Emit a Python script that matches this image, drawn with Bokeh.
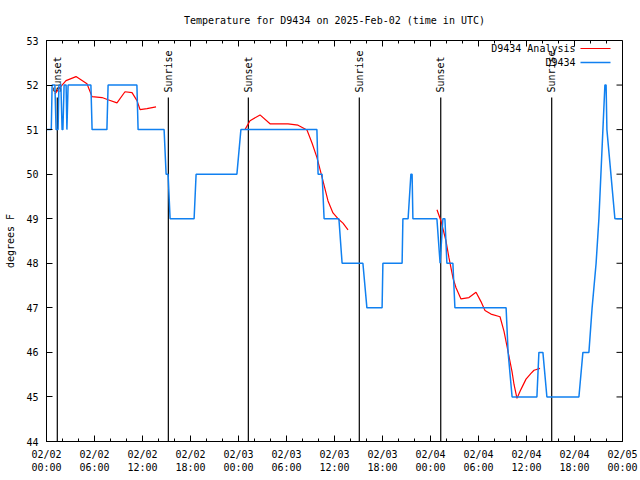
import math
from bokeh.plotting import figure
from bokeh.models import FixedTicker, LinearAxis, Range1d, ColumnDataSource
from bokeh.embed import file_html
from bokeh.resources import INLINE
from bokeh.core.properties import value

# ---- data (hours since 02/02 00:00 UTC) ----
obs_hours = [0, 0.6, 0.7, 1.05, 1.2, 1.45, 1.55, 1.8, 1.95, 2.05, 2.2, 2.45, 2.55, 2.7,
             5.55, 5.7, 7.55, 7.7, 11.3, 11.45, 14.7, 14.95, 15.2, 15.45, 18.45, 18.7,
             23.8, 24.3, 33.8, 33.95, 34.45, 34.7, 36.55, 36.95, 39.55, 40.05, 41.95, 42.05,
             44.45, 44.55, 45.2, 45.55, 45.7, 45.8, 48.8, 49.2, 49.55, 49.8, 50.05, 50.8,
             51.05, 57.45, 57.7, 58.2, 61.3, 61.55, 62.05, 62.55, 66.55, 67.05, 67.8, 68.2,
             68.7, 69.05, 69.3, 69.55, 69.8, 69.95, 70.05, 70.55, 71.05, 72]
obs_temp = [51, 51, 52, 52, 51, 51, 52, 52, 51, 51, 52, 52, 51, 52,
            52, 51, 51, 52, 52, 51, 51, 50, 50, 49, 49, 50,
            50, 51, 51, 50, 50, 49, 49, 48, 48, 47, 47, 48,
            48, 49, 49, 50, 50, 49, 49, 48, 49, 49, 48, 48,
            47, 47, 46, 45, 45, 46, 46, 45, 45, 46, 46, 47,
            48, 49, 50, 51, 52, 52, 51, 50, 49, 49]

ana1_hours = [1.06, 1.56, 2.44, 3.69, 5.06, 5.69, 6.94, 7.69, 8.81, 9.81, 10.69, 11.31, 11.69, 12.56, 13.69]
ana1_temp = [51.8, 51.92, 52.1, 52.19, 52.03, 51.74, 51.72, 51.67, 51.6, 51.85, 51.83, 51.65, 51.45, 51.47, 51.51]
ana2_hours = [24.81, 25.44, 26.69, 27.94, 30.19, 31.44, 32.56, 33.19, 33.81, 34.56, 35.19, 35.81, 36.44, 37.06, 37.69]
ana2_temp = [51.0, 51.2, 51.33, 51.13, 51.13, 51.1, 50.99, 50.7, 50.37, 49.85, 49.4, 49.13, 49.0, 48.9, 48.75]
ana3_hours = [48.81, 49.31, 49.94, 50.31, 50.81, 51.19, 51.81, 52.81, 53.69, 54.31, 54.81, 55.56, 56.69,
              57.19, 57.69, 58.19, 58.44, 58.81, 59.31, 59.94, 60.56, 60.94, 61.69]
ana3_temp = [49.2, 48.95, 48.5, 48.12, 47.67, 47.45, 47.2, 47.23, 47.35, 47.14, 46.94, 46.86, 46.8,
             46.47, 46.02, 45.57, 45.28, 44.97, 45.17, 45.4, 45.53, 45.6, 45.64]

sun_hours = [1.35, 15.23, 25.23, 39.1, 49.28, 63.15]
sun_labels = ["Sunset", "Sunrise", "Sunset", "Sunrise", "Sunset", "Sunrise"]

series_labels = ["D9434 Analysis", "D9434"]
title_text = "Temperature for D9434 on 2025-Feb-02 (time in UTC)"

x_ticks = [0, 6, 12, 18, 24, 30, 36, 42, 48, 54, 60, 66, 72]
x_tick_labels = ["02/02\n00:00", "02/02\n06:00", "02/02\n12:00", "02/02\n18:00",
                 "02/03\n00:00", "02/03\n06:00", "02/03\n12:00", "02/03\n18:00",
                 "02/04\n00:00", "02/04\n06:00", "02/04\n12:00", "02/04\n18:00",
                 "02/05\n00:00"]
x_minor = list(range(0, 73, 2))
y_ticks = [44, 45, 46, 47, 48, 49, 50, 51, 52, 53]

FONT = "DejaVu Sans Mono"
FS = "10px"
BLUE = "#1080f0"
RED = "#ff0000"

X0, X1 = 0, 72
Y0, Y1 = 44, 53
W, H = 640, 480
BL, BR, BT, BB = 46, 18, 40, 39
FRAME_W = W - BL - BR
FRAME_H = H - BT - BB
PX_X = (X1 - X0) / FRAME_W   # data units per pixel
PX_Y = (Y1 - Y0) / FRAME_H

p = figure(width=W, height=H, x_range=Range1d(X0, X1), y_range=Range1d(Y0, Y1),
           output_backend="svg", toolbar_location=None,
           min_border_left=BL, min_border_right=BR, min_border_top=BT, min_border_bottom=BB,
           title=title_text, x_axis_location=None, y_axis_location=None)
p.title.text_font = FONT
p.title.text_font_size = FS
p.title.text_font_style = "normal"
p.title.text_color = "black"
p.title.align = "center"
p.title.vertical_align = "top"
p.title.offset = 0
p.title.standoff = 26
p.xgrid.visible = False
p.ygrid.visible = False
p.outline_line_color = "black"
p.outline_line_width = 1
p.background_fill_color = "white"
p.border_fill_color = "white"

def style_axis(ax):
    ax.axis_line_color = "black"
    ax.major_tick_line_color = "black"
    ax.minor_tick_line_color = "black"
    ax.major_tick_in = 6
    ax.major_tick_out = 0
    ax.minor_tick_in = 3
    ax.minor_tick_out = 0
    ax.major_label_text_font = FONT
    ax.major_label_text_font_size = FS
    ax.major_label_text_color = "black"

xb = LinearAxis(ticker=FixedTicker(ticks=x_ticks, minor_ticks=x_minor),
                major_label_overrides={t: l for t, l in zip(x_ticks, x_tick_labels)},
                major_label_standoff=7)
style_axis(xb)
p.add_layout(xb, "below")

yl = LinearAxis(ticker=FixedTicker(ticks=y_ticks), axis_label="degrees F",
                major_label_standoff=8, axis_label_standoff=7)
style_axis(yl)
yl.minor_tick_line_color = None
yl.axis_label_text_font = FONT
yl.axis_label_text_font_size = FS
yl.axis_label_text_font_style = "normal"
yl.axis_label_text_color = "black"
p.add_layout(yl, "left")

# mirrored tick marks on the top and right edges (gnuplot style)
p.segment(x0=x_ticks, y0=[Y1] * len(x_ticks), x1=x_ticks, y1=[Y1 - 6 * PX_Y] * len(x_ticks),
          line_color="black", line_width=1)
p.segment(x0=x_minor, y0=[Y1] * len(x_minor), x1=x_minor, y1=[Y1 - 3 * PX_Y] * len(x_minor),
          line_color="black", line_width=1)
p.segment(x0=[X1] * len(y_ticks), y0=y_ticks, x1=[X1 - 6 * PX_X] * len(y_ticks), y1=y_ticks,
          line_color="black", line_width=1)

# sunrise / sunset markers
sun_src = ColumnDataSource(dict(x=sun_hours, label=sun_labels,
                                y0=[Y0] * len(sun_hours), y1=[Y1 - 57 * PX_Y] * len(sun_hours),
                                ty=[Y1 - 52 * PX_Y] * len(sun_hours)))
p.segment(x0="x", y0="y0", x1="x", y1="y1", source=sun_src, line_color="black", line_width=1.2)
p.text(x="x", y="ty", text="label", source=sun_src, angle=math.pi / 2,
       text_align="left", text_baseline="middle", text_font=value(FONT),
       text_font_size=FS, text_color="black")

p.multi_line(xs=[ana1_hours, ana2_hours, ana3_hours], ys=[ana1_temp, ana2_temp, ana3_temp],
             line_color=RED, line_width=1.2)
p.line(obs_hours, obs_temp, line_color=BLUE, line_width=1.5)

# gnuplot-style key: label text, then a line sample to its right
key_rows = [Y1 - 8 * PX_Y, Y1 - 22 * PX_Y]
key_text_x = X1 - 47 * PX_X
key_l0 = X1 - 42 * PX_X
key_l1 = X1 - 12 * PX_X
p.text(x=[key_text_x] * 2, y=key_rows, text=series_labels, text_align="right",
       text_baseline="middle", text_font=value(FONT), text_font_size=FS, text_color="black")
p.segment(x0=[key_l0] * 2, y0=key_rows, x1=[key_l1] * 2, y1=key_rows,
          line_color=[RED, BLUE], line_width=[1.2, 1.5])

open("out.html", "w").write(file_html(p, INLINE))
